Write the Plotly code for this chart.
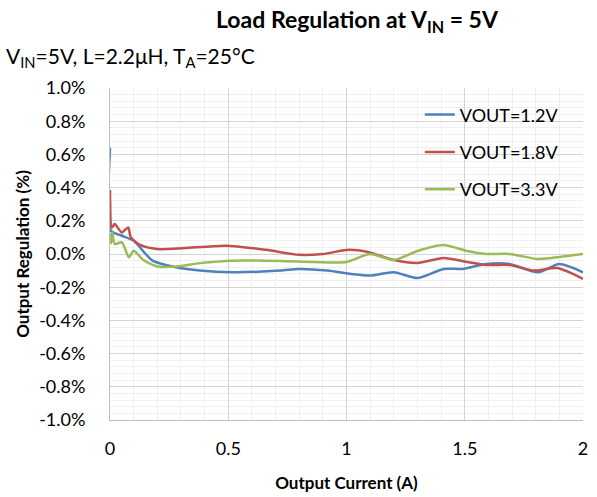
import plotly.graph_objects as go

x_12 = [0, 0.004, 0.05, 0.1, 0.18, 0.28, 0.38, 0.52, 0.72, 0.80, 0.92, 1.02, 1.10, 1.20, 1.30, 1.41, 1.49, 1.59, 1.69, 1.81, 1.90, 2.0]
y_12 = [0.64, 0.14, 0.11, 0.08, -0.04, -0.08, -0.10, -0.11, -0.10, -0.09, -0.10, -0.12, -0.13, -0.11, -0.145, -0.09, -0.09, -0.06, -0.06, -0.11, -0.06, -0.11]

x_18 = [0, 0.008, 0.02, 0.05, 0.077, 0.088, 0.127, 0.2, 0.31, 0.49, 0.66, 0.80, 0.9, 1.01, 1.09, 1.20, 1.30, 1.41, 1.51, 1.59, 1.69, 1.79, 1.89, 2.0]
y_18 = [0.385, 0.16, 0.18, 0.13, 0.16, 0.10, 0.055, 0.03, 0.035, 0.05, 0.025, -0.005, 0.0, 0.025, 0.012, -0.036, -0.054, -0.024, -0.048, -0.066, -0.066, -0.10, -0.085, -0.15]

x_33 = [0, 0.005, 0.01, 0.02, 0.05, 0.08, 0.1, 0.14, 0.2, 0.28, 0.38, 0.52, 0.72, 0.86, 1.0, 1.10, 1.20, 1.30, 1.41, 1.51, 1.59, 1.69, 1.81, 1.90, 2.0]
y_33 = [0.125, 0.065, 0.13, 0.06, 0.07, -0.02, 0.02, -0.035, -0.075, -0.075, -0.055, -0.04, -0.042, -0.048, -0.048, 0.0, -0.036, 0.018, 0.054, 0.018, 0.0, 0.0, -0.03, -0.018, 0.0]

names = ["VOUT=1.2V", "VOUT=1.8V", "VOUT=3.3V"]
colors = ["#4F81BD", "#C0504D", "#9BBB59"]

y_tickvals = [1.0, 0.8, 0.6, 0.4, 0.2, 0.0, -0.2, -0.4, -0.6, -0.8, -1.0]
y_ticktext = ["1.0%", "0.8%", "0.6%", "0.4%", "0.2%", "0.0%", "-0.2%", "-0.4%", "-0.6%", "-0.8%", "-1.0%"]
x_tickvals = [0, 0.5, 1, 1.5, 2]
x_ticktext = ["0", "0.5", "1", "1.5", "2"]

FONT = "Lato"
fig = go.Figure()
for i, (xs, ys) in enumerate([(x_12, y_12), (x_18, y_18), (x_33, y_33)]):
    fig.add_trace(go.Scatter(x=xs, y=ys, mode="lines", name=names[i],
                             legendgroup=str(i),
                             line=dict(color=colors[i], width=2.5, shape="spline", smoothing=0.7)))

fig.update_layout(
    width=597, height=497,
    margin=dict(l=110, r=14, t=88, b=77),
    paper_bgcolor="white", plot_bgcolor="white",
    font=dict(family=FONT, size=18, color="black"),
    showlegend=True,
    legend=dict(x=0.655, y=0.975, xanchor="left", yanchor="top", bgcolor="rgba(0,0,0,0)",
                font=dict(size=18), tracegroupgap=11, traceorder="grouped"),
    xaxis=dict(range=[0, 2], tickvals=x_tickvals, ticktext=x_ticktext,
               showgrid=True, gridcolor="#d4d4d4", gridwidth=1,
               minor=dict(dtick=0.1, showgrid=True, gridcolor="#efefef"),
               zeroline=False, showline=True, linecolor="#bfbfbf", linewidth=1,
               ticks="", ticklabelstandoff=12, automargin=False,
               title=dict(text="<b>Output Current (A)</b>", font=dict(size=17), standoff=19)),
    yaxis=dict(range=[-1, 1], tickvals=y_tickvals, ticktext=y_ticktext,
               showgrid=True, gridcolor="#d4d4d4", gridwidth=1,
               minor=dict(dtick=0.04, showgrid=True, gridcolor="#efefef"),
               zeroline=True, zerolinecolor="#d4d4d4", zerolinewidth=1,
               showline=True, linecolor="#bfbfbf", linewidth=1, mirror=False,
               ticks="", ticklabelstandoff=20, automargin=False,
               title=dict(text="<b>Output Regulation (%)</b>", font=dict(size=17), standoff=5)),
)

fig.add_annotation(text="<b>Load Regulation at V<sub>IN</sub> = 5V</b>",
                   xref="paper", yref="paper", x=(357 - 110) / 473, y=1 + (88 - 21) / 332,
                   xanchor="center", yanchor="middle", showarrow=False,
                   font=dict(size=23, family=FONT))
fig.add_annotation(text="V<sub>IN</sub>=5V, L=2.2μH, T<sub>A</sub>=25°C",
                   xref="paper", yref="paper", x=-(110 - 4) / 473, y=1 + (88 - 57) / 332,
                   xanchor="left", yanchor="middle", showarrow=False,
                   font=dict(size=21, family=FONT))

fig.write_html("out.html", config={"displayModeBar": False},
               post_script="document.body.style.margin='0px';")
